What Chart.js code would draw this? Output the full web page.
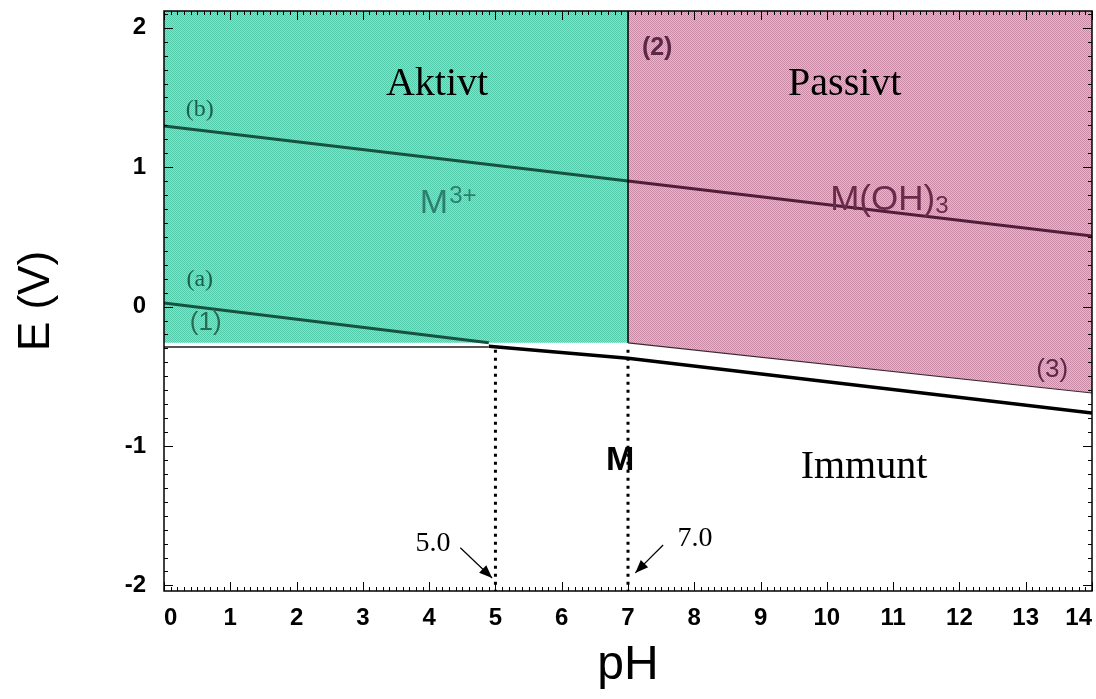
<!DOCTYPE html>
<html>
<head>
<meta charset="utf-8">
<script src="https://cdn.jsdelivr.net/npm/chart.js@4.4.1/dist/chart.umd.min.js"></script>
<style>
  html, body { margin: 0; padding: 0; background: #fff; }
  #wrap { width: 1096px; height: 699px; }
</style>
</head>
<body>
<div id="wrap"><canvas id="c" width="1096" height="699"></canvas></div>
<script>
// axis ranges and tick labels
const pHMin = 0, pHMax = 14;
const EMin = -2.04, EMax = 2.12;
const pHTicks = [0, 1, 2, 3, 4, 5, 6, 7, 8, 9, 10, 11, 12, 13, 14];
const ETicks = [-2, -1, 0, 1, 2];

// region boundaries (pH, E)
const aktivtBottomPH = [0, 7];
const aktivtBottomE = [-0.26, -0.26];
const passivtBottomPH = [7, 14];
const passivtBottomE = [-0.26, -0.62];
const boundaryPH = [7, 7];
const boundaryE = [2.12, -0.26];

// lines (a), (b) and the M / immune boundary
const lineBPH = [0, 7, 14];
const lineBE = [1.295, 0.90, 0.506];
const lineAPH = [0, 4.9];
const lineAE = [0.025, -0.26];
const greyLinePH = [0, 4.9];
const greyLineE = [-0.29, -0.29];
const immunPH = [4.9, 7, 14];
const immunE = [-0.285, -0.37, -0.764];

// dotted markers at pH 5.0 and 7.0
const markerPH = [5, 7];
const markerTopE = -0.31;

// text labels: [text, pH, E]
const textLabels = [
  ['Aktivt', 4.12, 1.517],
  ['Passivt', 10.27, 1.517],
  ['Immunt', 10.56, -1.23],
  ['(b)', 0.54, 1.367],
  ['(a)', 0.54, 0.147],
  ['5.0', 4.06, -1.75],
  ['7.0', 8.01, -1.72]
];
const arrows = [
  [4.47, -1.73, 4.95, -1.947],
  [7.53, -1.71, 7.11, -1.91]
];

const pts = (xs, ys) => xs.map((x, i) => ({x, y: ys[i]}));

const ctx = document.getElementById('c').getContext('2d');
function dither(c1, c2) {
    const cv = document.createElement('canvas');
    cv.width = 2; cv.height = 2;
    const g = cv.getContext('2d');
    g.fillStyle = c1; g.fillRect(0, 0, 2, 2);
    g.fillStyle = c2; g.fillRect(0, 0, 1, 1); g.fillRect(1, 1, 1, 1);
    return ctx.createPattern(cv, 'repeat');
}
const greenFill = dither('#86e3ca', '#52c9a8');
const pinkFill = dither('#e9b6cb', '#c98aa5');

const SANS = "'Liberation Sans', Arial, sans-serif";
const SERIF = "'Liberation Serif', 'Times New Roman', serif";

const decor = {
    id: 'decor',
    afterDatasetsDraw(chart) {
        const {ctx: c, chartArea: a, scales: {x, y}} = chart;
        c.save();
        // frame
        c.strokeStyle = '#000';
        c.lineWidth = 1.5;
        c.strokeRect(a.left, a.top, a.right - a.left, a.bottom - a.top);
        // inward ticks
        c.lineWidth = 1;
        c.beginPath();
        for (let i = pHMin * 10; i <= pHMax * 10; i++) {
            const px = Math.round(x.getPixelForValue(i / 10)) + 0.5;
            const len = i % 10 === 0 ? 9 : 4;
            c.moveTo(px, a.bottom); c.lineTo(px, a.bottom - len);
            c.moveTo(px, a.top); c.lineTo(px, a.top + len);
        }
        for (let i = -20; i <= 21; i++) {
            const py = Math.round(y.getPixelForValue(i / 10)) + 0.5;
            const len = i % 10 === 0 ? 9 : 4;
            c.moveTo(a.left, py); c.lineTo(a.left + len, py);
            c.moveTo(a.right, py); c.lineTo(a.right - len, py);
        }
        c.stroke();

        // serif labels
        c.fillStyle = '#000';
        c.textAlign = 'center';
        c.textBaseline = 'alphabetic';
        textLabels.forEach(([t, px, py]) => {
            let size = 40, col = '#000';
            if (t.startsWith('(')) { size = 24; col = '#1d5e4a'; }
            if (t === '5.0' || t === '7.0') size = 28;
            c.font = `${size}px ${SERIF}`;
            c.fillStyle = col;
            c.fillText(t, x.getPixelForValue(px), y.getPixelForValue(py));
        });

        // sans labels
        c.font = `26px ${SANS}`;
        c.fillStyle = '#2a6a55';
        c.textBaseline = 'middle';
        c.fillText('(1)', x.getPixelForValue(0.63), y.getPixelForValue(-0.12));
        c.font = `bold 25px ${SANS}`;
        c.fillStyle = '#5c2847';
        c.fillText('(2)', x.getPixelForValue(7.44), y.getPixelForValue(1.855));
        c.font = `26px ${SANS}`;
        c.fillText('(3)', x.getPixelForValue(13.4), y.getPixelForValue(-0.455));
        c.font = `bold 34px ${SANS}`;
        c.fillStyle = '#000';
        c.fillText('M', x.getPixelForValue(6.88), y.getPixelForValue(-1.108));

        c.textAlign = 'left';
        c.textBaseline = 'alphabetic';
        let bx = x.getPixelForValue(3.86), by = y.getPixelForValue(0.671);
        c.font = `34px ${SANS}`;
        c.fillStyle = '#2d7f6e';
        c.fillText('M', bx, by);
        bx += c.measureText('M').width + 1;
        c.font = `24px ${SANS}`;
        c.fillText('3+', bx, by - 10);

        bx = x.getPixelForValue(10.05); by = y.getPixelForValue(0.69);
        c.font = `35px ${SANS}`;
        c.fillStyle = '#6b2a4a';
        c.fillText('M(OH)', bx, by);
        bx += c.measureText('M(OH)').width;
        c.font = `24px ${SANS}`;
        c.fillText('3', bx, by + 3);

        // arrows
        c.strokeStyle = '#000';
        c.fillStyle = '#000';
        c.lineWidth = 1.2;
        arrows.forEach(([x0, y0, x1, y1]) => {
            const p0x = x.getPixelForValue(x0), p0y = y.getPixelForValue(y0);
            const p1x = x.getPixelForValue(x1), p1y = y.getPixelForValue(y1);
            const ang = Math.atan2(p1y - p0y, p1x - p0x);
            c.beginPath();
            c.moveTo(p0x, p0y); c.lineTo(p1x, p1y);
            c.stroke();
            c.beginPath();
            c.moveTo(p1x, p1y);
            c.lineTo(p1x - 14 * Math.cos(ang - 0.38), p1y - 14 * Math.sin(ang - 0.38));
            c.lineTo(p1x - 14 * Math.cos(ang + 0.38), p1y - 14 * Math.sin(ang + 0.38));
            c.closePath();
            c.fill();
        });
        c.restore();
    }
};

const line = (data, color, width, extra) => Object.assign({
    data, borderColor: color, borderWidth: width, showLine: true,
    pointRadius: 0, fill: false, tension: 0, order: 1
}, extra || {});

const noPad = s => { s.paddingTop = 0; s.paddingBottom = 0; s.paddingLeft = 0; s.paddingRight = 0; };

new Chart(ctx, {
    type: 'scatter',
    data: {
        datasets: [
            line(pts(aktivtBottomPH, aktivtBottomE), 'rgba(0,0,0,0)', 0,
                {fill: 'end', backgroundColor: greenFill, order: 10}),
            line(pts(passivtBottomPH, passivtBottomE), '#3a2a32', 1.2,
                {fill: 'end', backgroundColor: pinkFill, order: 10}),
            line(pts(boundaryPH, boundaryE), '#000', 1.5),
            line(pts(lineBPH, lineBE), '#17513f', 3, {
                segment: {borderColor: s => s.p0.parsed.x < 7 ? '#17513f' : '#521d39'}
            }),
            line(pts(lineAPH, lineAE), '#17513f', 3),
            line(pts(greyLinePH, greyLineE), '#555', 2),
            line(pts(immunPH, immunE), '#000', 3.5),
            ...markerPH.map(m => line(pts([m, m], [markerTopE, EMin]), '#000', 3,
                {borderDash: [3, 5]}))
        ]
    },
    options: {
        responsive: false,
        animation: false,
        layout: {padding: {top: 11, right: 4, left: 0, bottom: 0}},
        plugins: {legend: {display: false}, tooltip: {enabled: false}},
        scales: {
            x: {
                type: 'linear', min: pHMin, max: pHMax,
                afterBuildTicks: s => { s.ticks = pHTicks.map(v => ({value: v})); },
                afterFit: s => { s.height = 108; noPad(s); },
                grid: {display: false, drawTicks: false},
                border: {display: false},
                ticks: {padding: 13, align: 'inner', color: '#000',
                    font: {family: SANS, size: 24, weight: 'bold'}},
                title: {display: true, text: 'pH', color: '#000',
                    font: {family: SANS, size: 48, lineHeight: 1}, padding: {bottom: 9}}
            },
            y: {
                type: 'linear', min: EMin, max: EMax,
                afterBuildTicks: s => { s.ticks = ETicks.map(v => ({value: v})); },
                afterFit: s => { s.width = 164; noPad(s); },
                grid: {display: false, drawTicks: false},
                border: {display: false},
                ticks: {padding: 18, color: '#000', font: {family: SANS, size: 24, weight: 'bold'}},
                title: {display: true, text: 'E (V)', color: '#000',
                    font: {family: SANS, size: 44, lineHeight: 1}, padding: {top: 15}}
            }
        }
    },
    plugins: [decor]
});
</script>
</body>
</html>
